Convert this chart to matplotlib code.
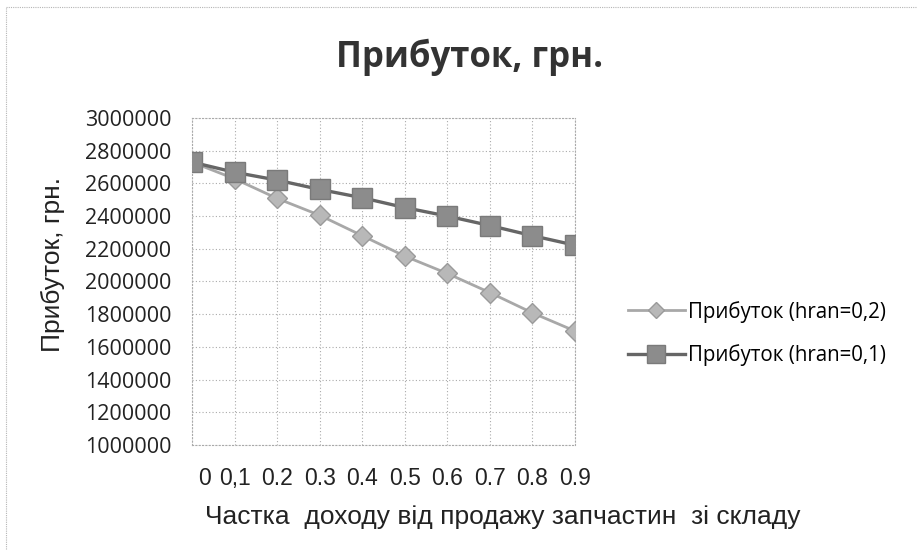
import matplotlib
matplotlib.use('Agg')
import matplotlib.pyplot as plt
import matplotlib.transforms as mtransforms
from matplotlib.lines import Line2D

# Дані
frac_labels = ['0', '0,1', '0.2', '0.3', '0.4', '0.5', '0.6', '0.7', '0.8', '0.9']
profit_h02 = [2730000, 2628000, 2508000, 2405000, 2280000, 2155000, 2049000, 1932000, 1808000, 1697000]
profit_h01 = [2730000, 2668000, 2620000, 2563000, 2512000, 2452000, 2400000, 2342000, 2280000, 2222000]
series_names = ['Прибуток (hran=0,2)', 'Прибуток (hran=0,1)']
y_ticks = list(range(1000000, 3000001, 200000))

fig = plt.figure(figsize=(9.21, 5.6), dpi=100)
fig.patch.set_facecolor('white')

# тонка рамка області діаграми (як на скані)
fig.add_artist(Line2D([0.006, 0.995], [0.988, 0.988], color='#b5b5b5', lw=0.8, ls=(0, (1, 1))))
fig.add_artist(Line2D([0.006, 0.006], [0.02, 0.988], color='#b5b5b5', lw=0.8, ls=(0, (1, 1))))

ax = fig.add_axes([0.2085, 0.2054, 0.4158, 0.5839])
x = list(range(len(frac_labels)))

ax.plot(x, profit_h02, color='#a8a8a8', lw=2.0, marker='D', markersize=10,
        markerfacecolor='#b8b8b8', markeredgecolor='#9a9a9a', label=series_names[0], zorder=3)
ax.plot(x, profit_h01, color='#666666', lw=2.4, marker='s', markersize=15,
        markerfacecolor='#8c8c8c', markeredgecolor='#7a7a7a', label=series_names[1], zorder=4)

ax.set_xlim(0, len(frac_labels) - 1)
ax.set_ylim(1000000, 3000000)
ax.set_xticks(x)
ax.set_xticklabels(frac_labels, family='Liberation Sans', fontsize=16.5, color='#222222')
ax.set_yticks(y_ticks)
ax.set_yticklabels([str(v) for v in y_ticks], family='Open Sans', fontsize=15.5, color='#222222')
ax.tick_params(axis='x', length=0, pad=16)
ax.tick_params(axis='y', length=0, pad=15)

# підпис "0" зсунутий трохи праворуч, як в Excel
lbl0 = ax.get_xticklabels()[0]
lbl0.set_transform(lbl0.get_transform() + mtransforms.ScaledTranslation(12 / 100, 0, fig.dpi_scale_trans))

ax.grid(True, color='#aaaaaa', lw=0.8, ls=(0, (1, 2)))
for s in ax.spines.values():
    s.set_color('#aaaaaa')
    s.set_linewidth(0.8)
    s.set_linestyle((0, (1, 2)))

fig.text(0.510, 0.898, 'Прибуток, грн.', ha='center', va='center',
         family='Open Sans', fontweight='bold', fontsize=25, color='#333333')
fig.text(0.058, 0.527, 'Прибуток, грн.', ha='center', va='center', rotation=90,
         family='Liberation Sans', fontsize=19, color='#222222')
fig.text(0.2226, 0.0768, 'Частка  доходу від продажу запчастин  зі складу', ha='left', va='center',
         family='Liberation Sans', fontsize=19, color='#222222')

fig.legend(loc='center left', bbox_to_anchor=(0.682, 0.4045), frameon=False,
           prop={'family': 'Open Sans', 'size': 14.8}, handlelength=2.75,
           handletextpad=0.15, labelspacing=1.05, borderpad=0, borderaxespad=0,
           markerscale=0.85)

fig.savefig('out.png', dpi=100, facecolor='white')
